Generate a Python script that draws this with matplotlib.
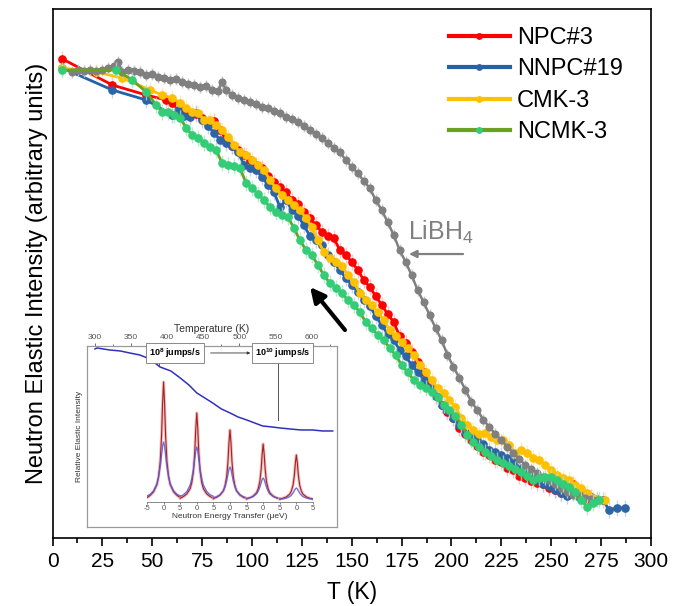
import matplotlib
matplotlib.use("Agg")
import matplotlib.pyplot as plt
from matplotlib.ticker import MultipleLocator, FixedLocator

plt.rcParams["font.family"] = ["Liberation Sans", "DejaVu Sans"]
plt.rcParams["mathtext.fontset"] = "custom"
plt.rcParams["mathtext.rm"] = "Liberation Sans"
plt.rcParams["mathtext.bf"] = "Liberation Sans:bold"
plt.rcParams["mathtext.default"] = "regular"

# ---------- main data: T (K) vs elastic intensity (arb. units) ----------
npc3_T = [5, 30, 47, 57, 60, 63, 66, 69, 72, 75, 78, 81, 84, 87, 90, 93, 96, 99, 102, 105,
          108, 111, 114, 117, 120, 123, 126, 129, 132, 135, 138, 141, 144, 147, 150, 153,
          156, 159, 162, 165, 168, 171, 174, 177, 180, 183, 186, 189, 192, 195, 198, 201,
          204, 207, 210, 213, 216, 219, 222, 225, 228, 231, 234, 237, 240, 243, 246, 249,
          252, 255, 258, 261, 264, 267, 270]
npc3_I = [479, 453, 443, 438, 435, 426, 428, 423, 424, 420, 415, 417, 408, 398, 392, 388, 383,
          378, 373, 370, 362, 356, 351, 346, 338, 334, 326, 320, 313, 306, 302, 300, 288,
          283, 276, 268, 258, 251, 242, 233, 224, 216, 202, 195, 186, 176, 166, 153, 142,
          133, 126, 120, 110, 104, 98, 92, 86, 83, 78, 76, 70, 68, 62, 60, 57, 55, 54, 50,
          48, 45, 52, 54, 45, 40, 38]

nnpc19_T = [5, 30, 47, 60, 63, 66, 69, 72, 75, 78, 81, 84, 87, 90, 93, 96, 99, 102, 105, 108,
            111, 114, 117, 120, 123, 126, 129, 132, 135, 138, 141, 144, 147, 150, 153, 156,
            159, 162, 165, 168, 171, 174, 177, 180, 183, 186, 189, 192, 195, 198, 201, 204,
            207, 210, 213, 216, 219, 222, 225, 228, 231, 234, 237, 240, 243, 246, 249, 252,
            255, 258, 261, 264, 267, 270, 273, 276, 279, 283, 287]
nnpc19_I = [470, 448, 438, 423, 428, 422, 421, 425, 418, 412, 405, 398, 395, 392, 386, 373,
            370, 368, 361, 353, 346, 331, 338, 328, 322, 313, 302, 298, 293, 283, 276, 268,
            260, 253, 246, 238, 232, 222, 213, 204, 198, 188, 182, 173, 166, 158, 150, 142,
            133, 128, 120, 113, 106, 102, 98, 94, 88, 86, 83, 80, 76, 70, 68, 63, 58, 54, 52,
            48, 45, 42, 46, 41, 43, 41, 39, 38, 28, 30, 30]

cmk3_T = [5, 22, 35, 49, 55, 60, 64, 67, 70, 73, 76, 79, 82, 85, 88, 91, 94, 97, 100, 103,
          106, 109, 112, 115, 118, 121, 124, 127, 130, 133, 136, 139, 142, 145, 148, 151,
          154, 157, 160, 163, 166, 169, 172, 175, 178, 181, 184, 187, 190, 193, 196, 199,
          202, 205, 208, 211, 214, 217, 220, 223, 226, 229, 232, 235, 238, 241, 244, 247,
          250, 253, 256, 259, 262, 265, 268, 271, 274, 277]
cmk3_I = [470, 466, 460, 448, 443, 440, 435, 430, 426, 425, 418, 418, 413, 408, 401, 393, 386,
          383, 378, 373, 368, 358, 350, 343, 338, 333, 328, 320, 311, 298, 286, 280, 276,
          272, 263, 256, 245, 238, 233, 226, 218, 208, 202, 196, 190, 183, 173, 166, 158,
          150, 145, 138, 131, 120, 113, 108, 104, 105, 101, 98, 98, 93, 85, 88, 85, 80, 78,
          73, 68, 63, 60, 58, 53, 50, 45, 40, 38, 38]

ncmk3_T = [5, 32, 40, 47, 52, 55, 58, 61, 64, 67, 70, 73, 76, 79, 82, 85, 88, 91, 94, 97, 100,
           103, 106, 109, 112, 115, 118, 121, 124, 127, 130, 133, 136, 139, 142, 145, 148,
           151, 154, 157, 160, 163, 166, 169, 172, 175, 178, 181, 184, 187, 190, 193, 196,
           199, 202, 205, 208, 211, 214, 217, 220, 223, 226, 229, 232, 235, 238, 241, 244,
           247, 250, 253, 256, 259, 262, 265, 268, 271, 274]
ncmk3_I = [468, 468, 458, 446, 433, 426, 426, 423, 420, 410, 403, 400, 395, 391, 388, 375,
           373, 372, 370, 355, 350, 344, 338, 331, 326, 323, 321, 310, 298, 288, 283, 273,
           263, 255, 250, 245, 238, 233, 226, 216, 210, 203, 198, 190, 183, 173, 166, 158,
           153, 150, 146, 141, 133, 128, 122, 113, 103, 96, 91, 86, 82, 78, 75, 72, 69, 66,
           62, 58, 60, 61, 61, 58, 54, 51, 46, 38, 31, 35, 38]

libh4_T = [10, 13, 16, 19, 22, 25, 28, 31, 33, 35, 38, 41, 44, 47, 50, 53, 56, 59, 62, 65, 68,
           71, 74, 77, 80, 83, 85, 87, 90, 93, 96, 99, 102, 105, 108, 111, 114, 117, 120, 123,
           126, 129, 132, 135, 138, 141, 144, 147, 150, 153, 156, 159, 162, 165, 168, 171,
           174, 177, 180, 183, 186, 189, 192, 195, 198, 201, 204, 207, 210, 213, 216, 219,
           222, 225, 228, 231, 234, 237, 240, 243, 246, 249, 252, 255, 258, 261, 264, 267,
           270, 273]
libh4_I = [466, 468, 467, 468, 467, 468, 470, 472, 476, 466, 468, 467, 466, 463, 464, 461,
           460, 458, 459, 456, 454, 453, 451, 452, 448, 447, 456, 448, 443, 440, 438, 436,
           434, 431, 430, 427, 425, 421, 419, 416, 412, 408, 404, 400, 395, 390, 386, 378,
           371, 365, 357, 350, 338, 328, 316, 303, 288, 276, 263, 248, 236, 223, 210, 198,
           183, 171, 160, 148, 136, 128, 118, 111, 104, 98, 91, 85, 79, 73, 69, 65, 61, 58,
           54, 50, 46, 43, 42, 40, 39, 38]

series_names = ["NPC#3", "NNPC#19", "CMK-3", "NCMK-3"]

# ---------- inset data (reproduced schematic) ----------
inset_temp = [300, 303, 320, 335, 348, 362, 376, 390, 405, 418, 430, 441, 452, 463, 475, 487,
              498, 510, 521, 532, 545, 556, 570, 585, 601, 615, 629]
inset_int = [178, 179, 177, 176, 174, 172, 168, 160, 156, 149, 142, 134, 129, 124, 118, 114,
             110, 107, 104, 101, 100, 99, 98, 97, 97, 96, 96]
peak_offsets = [-5, -4, -3, -2, -1.5, -1, -0.6, -0.3, 0, 0.3, 0.6, 1, 1.5, 2, 3, 4, 5]
red_profile = [0.02, 0.04, 0.07, 0.13, 0.2, 0.33, 0.55, 0.82, 1.0, 0.82, 0.55, 0.33, 0.2,
               0.13, 0.07, 0.04, 0.02]
blue_profile = [0.07, 0.1, 0.16, 0.28, 0.4, 0.58, 0.78, 0.93, 1.0, 0.93, 0.78, 0.58, 0.4,
                0.28, 0.16, 0.1, 0.07]
peak_centers = [0, 10, 20, 30, 40]
red_heights = [118, 87, 70, 56, 45]
blue_heights = [58, 53, 33, 22, 12]
energy_ticks = [-5, 0, 5, 10, 15, 20, 25, 30, 35, 40, 45]
energy_ticklabels = ["-5", "0", "5", "0", "5", "0", "5", "0", "5", "0", "5"]

# ---------- figure ----------
fig = plt.figure(figsize=(6.83, 6.06), dpi=100)
ax = fig.add_axes([0.0769, 0.1122, 0.8762, 0.8729])

styles = [
    (npc3_T, npc3_I, "#ff0000", "#ff0000", "#ffaaaa"),
    (nnpc19_T, nnpc19_I, "#2462a8", "#2e64a6", "#a9c4e4"),
    (cmk3_T, cmk3_I, "#ffc000", "#ffc000", "#ffe39a"),
]
handles = []
for (T, I, lc, mc, ec), name in zip(styles, series_names[:3]):
    ax.errorbar(T, I, yerr=8, fmt="none", ecolor=ec, elinewidth=1.0, alpha=0.7, zorder=2)
    h, = ax.plot(T, I, "-o", color=lc, mfc=mc, mec=mc, lw=2.0, ms=5.2, zorder=3, label=name)
    handles.append(h)

ax.errorbar(libh4_T, libh4_I, yerr=6, fmt="none", ecolor="#c8c8c8", elinewidth=1.0, zorder=3)
ax.plot(libh4_T, libh4_I, "-o", color="#808080", mfc="#808080", mec="#808080",
        lw=1.8, ms=4.8, zorder=4)

ax.errorbar(ncmk3_T, ncmk3_I, yerr=8, fmt="none", ecolor="#a8e6c4", elinewidth=1.0,
            alpha=0.8, zorder=4)
h, = ax.plot(ncmk3_T, ncmk3_I, "-o", color="#6aa121", mfc="#33cc77", mec="#33cc77",
             lw=2.0, ms=5.2, zorder=5, label=series_names[3])
handles.append(h)

ax.set_xlim(0, 300)
ax.set_ylim(0, 529)
ax.xaxis.set_major_locator(MultipleLocator(25))
ax.xaxis.set_minor_locator(MultipleLocator(12.5))
ax.tick_params(axis="x", which="major", direction="out", length=6, width=1.2,
               labelsize=15, pad=4)
ax.tick_params(axis="x", which="minor", direction="out", length=3.5, width=1.2)
ax.tick_params(axis="y", left=False, labelleft=False)
for sp in ax.spines.values():
    sp.set_linewidth(1.2)
ax.set_xlabel("T (K)", fontsize=16.5, labelpad=7)
ax.set_ylabel("Neutron Elastic Intensity (arbitrary units)", fontsize=17, labelpad=3)

leg = ax.legend(handles=handles, loc="upper left", bbox_to_anchor=(0.662, 0.966),
                frameon=False, fontsize=17, handlelength=2.6, handletextpad=0.3,
                labelspacing=0.4, borderpad=0, borderaxespad=0, numpoints=1,
                markerscale=0.75)
for lh in leg.get_lines():
    lh.set_linewidth(3.0)

# arrow pointing to lower temperature
ax.annotate("", xy=(129.1, 251), xytext=(146.6, 208),
            arrowprops=dict(arrowstyle="-|>", color="black", lw=3,
                            mutation_scale=22, shrinkA=0, shrinkB=0))
# LiBH4 label with arrow
ax.text(178.2, 306, "LiBH$_4$", color="#808080", fontsize=18, ha="left", va="center")
ax.annotate("", xy=(178.7, 284), xytext=(205.8, 284),
            arrowprops=dict(arrowstyle="-|>", color="#808080", lw=1.6,
                            mutation_scale=11, shrinkA=0, shrinkB=0))

# ---------- inset ----------
ins = fig.add_axes([0.1274, 0.1304, 0.3660, 0.2987])
ins.set_facecolor("white")
ins.set_zorder(6)
ins.plot(inset_temp, inset_int, color="#3030c0", lw=1.1)
ins.set_xlim(289, 635)
ins.set_ylim(0, 181)
for sp in ins.spines.values():
    sp.set_color("#9a9a9a")
    sp.set_linewidth(0.9)
ins.xaxis.set_ticks_position("top")
ins.xaxis.set_label_position("top")
ins.xaxis.set_major_locator(MultipleLocator(50))
ins.xaxis.set_minor_locator(MultipleLocator(25))
ins.tick_params(axis="x", which="both", direction="out", length=2, width=0.6,
                colors="#555555", labelsize=6, pad=1.5)
ins.tick_params(axis="x", which="minor", length=1.2)
ins.tick_params(axis="y", left=False, labelleft=False)
ins.set_xlabel("Temperature (K)", fontsize=7.5, color="#333333", labelpad=1.5)
ins.set_ylabel("Relative Elastic Intensity", fontsize=6, color="#333333", labelpad=3)

box = dict(boxstyle="square,pad=0.3", fc="white", ec="#777777", lw=0.6)
ins.text(410.6, 174, r"$\mathbf{10^8}$ jumps/s", fontsize=6.5, fontweight="bold",
         ha="center", va="center", bbox=box)
ins.text(560, 174, r"$\mathbf{10^{10}}$ jumps/s", fontsize=6.5, fontweight="bold",
         ha="center", va="center", bbox=box)
ins.annotate("", xy=(515, 174), xytext=(460, 174),
             arrowprops=dict(arrowstyle="-|>", color="#333333", lw=0.6,
                             mutation_scale=4, shrinkA=0, shrinkB=0))
ins.plot([553, 553], [166, 107], color="#555555", lw=0.7)
ins.plot([388.5, 388.5], [166, 162], color="#555555", lw=0.7)

pk = fig.add_axes([0.2152, 0.1716, 0.2430, 0.2096])
pk.set_zorder(7)
pk.patch.set_alpha(0)
for c, hr, hb in zip(peak_centers, red_heights, blue_heights):
    xs = [c + o for o in peak_offsets]
    pk.plot(xs, [hr * p for p in red_profile], color="#e8b0b0", lw=2.2, alpha=0.8)
    pk.plot(xs, [hr * p for p in red_profile], color="#a82020", lw=0.8)
    pk.plot(xs, [hb * p for p in blue_profile], color="#5a5ad8", lw=1.0, alpha=0.85)
pk.set_xlim(-5, 45)
pk.set_ylim(-2, 125)
for name in ["top", "left", "right"]:
    pk.spines[name].set_visible(False)
pk.spines["bottom"].set_color("#777777")
pk.spines["bottom"].set_linewidth(0.6)
pk.xaxis.set_major_locator(FixedLocator(energy_ticks))
pk.set_xticklabels(energy_ticklabels)
pk.tick_params(axis="x", direction="out", length=1.5, width=0.5, colors="#555555",
               labelsize=5.5, pad=1)
pk.tick_params(axis="y", left=False, labelleft=False)
pk.set_xlabel("Neutron Energy Transfer (\u03bceV)", fontsize=6, color="#333333",
              labelpad=0.5)

fig.savefig("out.png", dpi=100)
